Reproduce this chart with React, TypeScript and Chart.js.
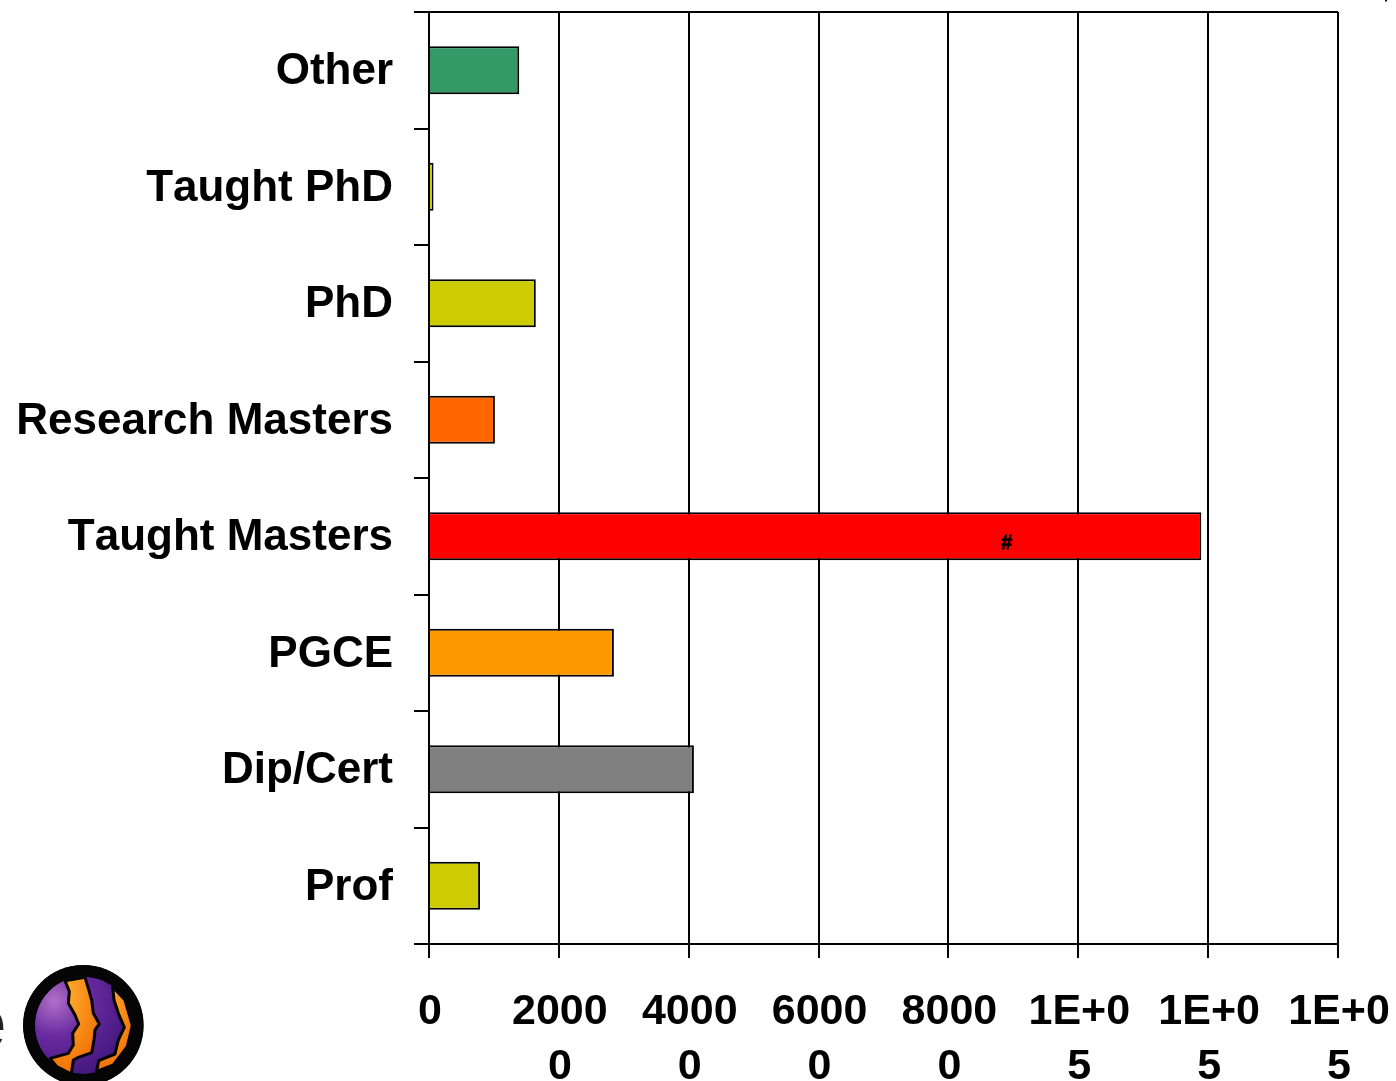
import React, { useEffect, useRef } from "react";
import { Chart, registerables } from "chart.js";

Chart.register(...registerables);

const categories = ["Other", "Taught PhD", "PhD", "Research Masters", "Taught Masters", "PGCE", "Dip/Cert", "Prof"];
const values = [13900, 700, 16450, 10150, 118950, 28480, 40800, 7870];
const barColors = ["#339966", "#cccc00", "#cccc00", "#ff6600", "#ff0000", "#ff9900", "#808080", "#cccc00"];
const xTickLabels: Record<number, string[]> = {
  0: ["0"],
  20000: ["2000", "0"],
  40000: ["4000", "0"],
  60000: ["6000", "0"],
  80000: ["8000", "0"],
  100000: ["1E+0", "5"],
  120000: ["1E+0", "5"],
  140000: ["1E+0", "5"],
};
const stray = { label: "#", category: "Taught Masters", value: 89000 };

const FONT = '"Liberation Sans", Arial, sans-serif';

const extras = {
  id: "extras",
  beforeDraw(chart: any) {
    chart.ctx.fontKerning = "none";
  },
  afterDatasetsDraw(chart: any) {
    const { ctx, chartArea, scales } = chart;
    ctx.save();
    ctx.strokeStyle = "#000";
    ctx.lineWidth = 2;
    ctx.beginPath();
    ctx.moveTo(chartArea.left, chartArea.top);
    ctx.lineTo(chartArea.right, chartArea.top);
    ctx.stroke();
    ctx.fillStyle = "#000";
    ctx.font = `bold 20px ${FONT}`;
    ctx.textAlign = "center";
    ctx.textBaseline = "middle";
    const x = scales.x.getPixelForValue(stray.value);
    const y = scales.y.getPixelForValue(categories.indexOf(stray.category)) + 7;
    ctx.fillText(stray.label, x, y);
    ctx.lineWidth = 0.8;
    ctx.strokeText(stray.label, x, y);
    ctx.restore();
  },
};

export default function App() {
  const ref = useRef<HTMLCanvasElement>(null);
  useEffect(() => {
    const chart = new Chart(ref.current!, {
      type: "bar",
      data: {
        labels: categories,
        datasets: [
          {
            data: values,
            backgroundColor: barColors,
            borderColor: "#000",
            borderWidth: 2,
            categoryPercentage: 0.41,
            barPercentage: 1,
          },
        ],
      },
      options: {
        indexAxis: "y",
        animation: false,
        responsive: false,
        maintainAspectRatio: false,
        layout: { padding: { left: 0, top: 12, right: 58, bottom: 0 } },
        plugins: { legend: { display: false }, tooltip: { enabled: false }, title: { display: false } },
        scales: {
          x: {
            type: "linear",
            min: 0,
            max: 140000,
            afterFit(scale: any) {
              scale.height = 1081 - 944;
              scale.paddingLeft = 0;
              scale.paddingRight = 0;
            },
            border: { color: "#000", width: 2 },
            grid: { color: "#000", lineWidth: 2, tickLength: 14, tickColor: "#000", drawOnChartArea: true },
            ticks: {
              stepSize: 20000,
              autoSkip: false,
              maxRotation: 0,
              minRotation: 0,
              padding: 27,
              labelOffset: 1,
              color: "#000",
              font: { family: FONT, weight: "bold", size: 43, lineHeight: 1.27 },
              callback: (v: any) => xTickLabels[v as number] ?? "",
            },
          },
          y: {
            afterFit(scale: any) {
              scale.width = 429;
              scale.paddingTop = 0;
              scale.paddingBottom = 0;
            },
            border: { color: "#000", width: 2 },
            grid: { offset: true, drawOnChartArea: false, tickLength: 15, color: "#000", lineWidth: 2 },
            ticks: {
              autoSkip: false,
              padding: 21,
              labelOffset: 2,
              color: "#000",
              font: { family: FONT, weight: "bold", size: 44 },
            },
          },
        },
      },
      plugins: [extras],
    } as any);
    return () => chart.destroy();
  }, []);

  return (
    <div style={{ position: "fixed", left: 0, top: 0, width: 1396, height: 1081, overflow: "hidden", background: "#fff" }}>
      <canvas ref={ref} width={1396} height={1081} style={{ position: "absolute", left: 0, top: 0, display: "block" }} />
      <svg width={4} height={3} style={{ position: "absolute", left: 1384, top: 0 }}>
        <rect x="1" y="0" width="2" height="1.5" fill="#111" />
      </svg>
      <svg viewBox="0 0 600 393" width={200} height={131} style={{ position: "absolute", left: 0, top: 950, filter: "blur(0.5px)" }}>
        <defs>
          <radialGradient id="pg" cx="0.2" cy="0.25" r="0.9">
            <stop offset="0" stopColor="#b070c8" />
            <stop offset="0.4" stopColor="#6a2aa0" />
            <stop offset="1" stopColor="#3c1478" />
          </radialGradient>
          <radialGradient id="og" cx="0.3" cy="0.2" r="0.9">
            <stop offset="0" stopColor="#ffb030" />
            <stop offset="1" stopColor="#f06a00" />
          </radialGradient>
        </defs>
        <text x="-105" y="295" fontFamily="Liberation Sans" fontSize="225" fill="#222">e</text>
        <circle cx="250" cy="226" r="181" fill="#050505" />
        <circle cx="251" cy="226" r="146" fill="url(#pg)" />
        <path d="M195,92 L255,82 L265,115 L275,150 L280,190 L298,222 L285,240 L282,270 L275,308 L235,322 L220,330 L214,372 L170,350 L150,325 L205,310 L220,285 L218,250 L236,222 L225,195 L205,160 L208,125 Z" fill="url(#og)" stroke="#050505" strokeWidth="9" strokeLinejoin="round" />
        <path d="M338,110 L375,150 L397,226 L382,290 L340,345 L290,364 L296,332 L345,312 L355,270 L373,232 L355,190 L342,150 Z" fill="url(#og)" stroke="#050505" strokeWidth="9" strokeLinejoin="round" />
        <circle cx="250" cy="226" r="163" fill="none" stroke="#050505" strokeWidth="34" />
      </svg>
    </div>
  );
}
